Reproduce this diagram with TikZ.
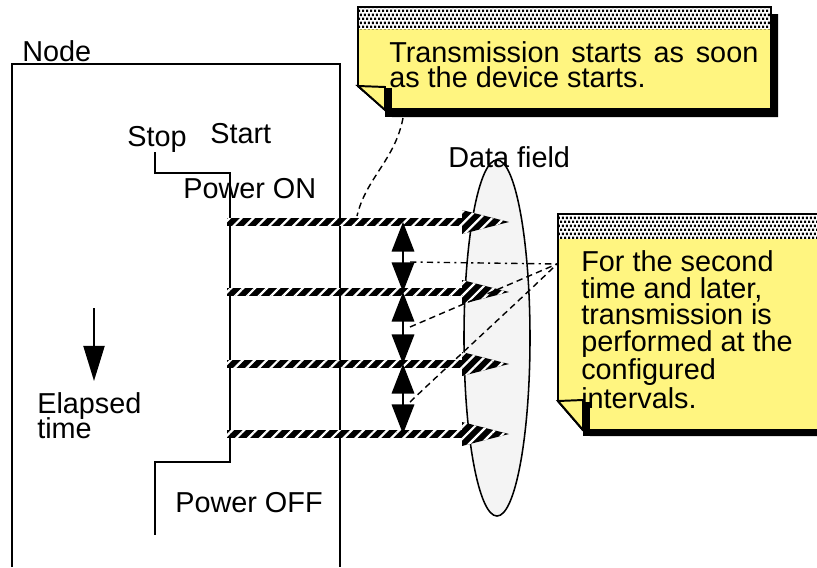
\documentclass[tikz,border=0pt]{standalone}
\usepackage{fontspec}
\setmainfont{Liberation Sans}
\usetikzlibrary{arrows.meta,calc,shapes.geometric,patterns,patterns.meta}

\definecolor{noteyellow}{RGB}{255,245,128}
\definecolor{fieldgray}{RGB}{244,244,244}

\pgfdeclarepatternformonly{notedots}{\pgfpointorigin}{\pgfpoint{3pt}{6pt}}{\pgfpoint{3pt}{6pt}}{
  \pgfpathrectangle{\pgfpoint{0pt}{0pt}}{\pgfpoint{1.8pt}{1.8pt}}
  \pgfpathrectangle{\pgfpoint{1.5pt}{3pt}}{\pgfpoint{1.8pt}{1.8pt}}
  \pgfusepath{fill}
}

\begin{document}
\begin{tikzpicture}[
    x=0.025cm, y=-0.025cm,
    lbl/.style={anchor=base west, inner sep=0pt, font=\fontsize{20.5}{23}\selectfont},
    frame/.style={draw=black, line width=1.4pt},
    hatch/.style={fill=black, postaction={pattern={Lines[angle=45,distance=6pt,line width=1.6pt]}, pattern color=white}},
    gap/.style={{Triangle[length=21pt,width=16pt]}-{Triangle[length=21pt,width=16pt]}, line width=1.3pt},
    leader/.style={dashed, line width=1pt, dash pattern=on 4.5pt off 3pt},
    dashdot/.style={leader, dash pattern=on 4.5pt off 3pt on 1.5pt off 3pt},
    notebody/.style={fill=noteyellow, draw=black, line width=1.4pt},
    notehead/.style={pattern=notedots},
    shade/.style={fill=black}
]
\useasboundingbox (0,0) rectangle (817,567);

% node frame and power steps
\draw[frame] (12,567) |- (340,64) -- (340,567);
\draw[frame] (155,152) -- (155,173) -- (230,173) -- (230,462) -- (155,462) -- (155,535);

\node[lbl] (nodelbl) at (22,61) {Node};
\node[lbl] (stop) at (127,146) {Stop};
\node[lbl] (start) at (210,143) {Start};
\node[lbl] (pon) at (183,198) {Power ON};
\node[lbl] (poff) at (175,512) {Power OFF};
\node[lbl] (elapsed) at (37,413) {Elapsed};
\node[lbl] (time) at ($(elapsed.base west)+(0,25)$) {time};

\coordinate (etop) at (94,308);
\coordinate (ebot) at (94,381);
\draw[line width=1.3pt, -{Triangle[length=25pt,width=15pt]}] (etop) -- (ebot);

% data field
\node[ellipse, draw=black, line width=1.1pt, fill=fieldgray, minimum width=1.65cm, minimum height=8.9cm, inner sep=0pt] (field) at (497,338) {};
\node[lbl] (fieldlbl) at (448,167) {Data field};

% transmissions
\foreach \i/\y in {1/222,2/292,3/364,4/434} {
  \coordinate (s\i) at (227,\y);
  \coordinate (t\i) at (509,\y);
  \coordinate (m\i) at (403,\y);
}
\foreach \i in {1,...,4}
  \path[hatch] ($(s\i)+(0,-3.8)$) -- ($(t\i)+(-47,-3.8)$) -- ($(t\i)+(-47,-12)$) -- (t\i)
     -- ($(t\i)+(-47,12)$) -- ($(t\i)+(-47,3.8)$) -- ($(s\i)+(0,3.8)$) -- cycle;

\draw[gap] (m1) -- (m2);
\draw[gap] (m2) -- (m3);
\draw[gap] (m3) -- (m4);

% leaders
\coordinate (n1tail) at (403,118);
\coordinate (n2tail) at (557,264);
\coordinate (g1) at (410,262);
\coordinate (g2) at (410,327);
\coordinate (g3) at (410,402);
\draw[leader] (n1tail) .. controls (395,160) and (366,178) .. (357,216);
\draw[dashdot] (g1) -- (n2tail);
\draw[leader] (g2) -- (n2tail);
\draw[leader] (g3) .. controls (452,362) and (520,300) .. (n2tail);

% first note
\fill[shade] (365,14) -- (778,14) -- (778,117) -- (392,117) -- (365,93) -- cycle;
\path[notebody] (358,7) -- (771,7) -- (771,109) -- (385,109) -- (358,86) -- cycle;
\fill[white] (358,7) rectangle (771,29);
\fill[notehead] (358,7) rectangle (771,29);
\draw[line width=1.4pt] (358,7) -- (771,7) -- (771,109) -- (385,109) -- (358,86) -- cycle;
\fill[shade] (385,88) rectangle (392,117);
\path[notebody] (358,86) -- (385,87) -- (385,110) -- cycle;
\node[lbl, font=\fontsize{20.5}{17.4}\selectfont, align=left] (note1) at (389,87)
  {\makebox[9.225cm][s]{Transmission starts as soon}\\as the device starts.};

% second note
\fill[shade] (564,220) -- (836,220) -- (836,436) -- (590,436) -- (564,407) -- cycle;
\path[notebody] (558,214) -- (830,214) -- (830,430) -- (583,430) -- (558,401) -- cycle;
\fill[white] (558,214) rectangle (830,239);
\fill[notehead] (558,214) rectangle (830,239);
\draw[line width=1.4pt] (558,214) -- (830,214) -- (830,430) -- (583,430) -- (558,401) -- cycle;
\fill[shade] (583,402) rectangle (590,436);
\path[notebody] (558,401) -- (583,400) -- (583,430) -- cycle;
\node[lbl, font=\fontsize{20.5}{18.9}\selectfont, align=left] (note2) at (581,408)
  {For the second\\time and later,\\transmission is\\performed at the\\configured\\intervals.};

\end{tikzpicture}
\end{document}
